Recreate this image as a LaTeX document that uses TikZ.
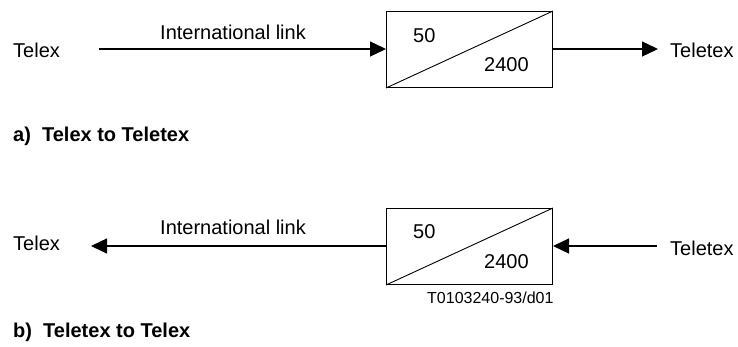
\documentclass[tikz,border=0pt]{standalone}
\usepackage{fontspec}
\setmainfont{Liberation Sans}
\usetikzlibrary{arrows.meta}
\begin{document}
\begin{tikzpicture}[x=1pt,y=-1pt,
  lbl/.style={anchor=base west,inner sep=0pt,font=\fontsize{20}{24}\selectfont},
  caption/.style={anchor=base west,inner sep=0pt,font=\fontsize{20}{24}\selectfont\bfseries},
  small/.style={anchor=base west,inner sep=0pt,font=\fontsize{16}{19}\selectfont},
  conv/.style={draw,line width=1pt,minimum width=166pt,minimum height=76pt,inner sep=0pt,anchor=north west},
  link/.style={line width=1.3pt,-{Triangle[length=16pt,width=15pt]}},
  plain/.style={line width=1.3pt}]
\useasboundingbox (0,0) rectangle (738,347);

% a) Telex to Teletex
\node[lbl] (telexA) at (13,58) {Telex};
\node[conv] (boxA) at (386,11) {};
\draw[line width=0.9pt] (boxA.south west) -- (boxA.north east);
\node[lbl] at (413,43) {50};
\node[lbl] at (484,72) {2400};
\node[lbl] (linkA) at (160,40) {International link};
\node[lbl] (teletexA) at (670,58) {Teletex};
\coordinate (startA) at (99,49);
\coordinate (endA) at (658,49);
\draw[link] (startA) -- (startA -| boxA.west);
\draw[link] (endA -| boxA.east) -- (endA);
\node[caption] (capA) at (13,142) {a)\ \ Telex to Teletex};

% b) Teletex to Telex
\node[lbl] (telexB) at (13,251) {Telex};
\node[conv] (boxB) at (386,208) {};
\draw[line width=0.9pt] (boxB.south west) -- (boxB.north east);
\node[lbl] at (413,238) {50};
\node[lbl] at (484,268) {2400};
\node[lbl] (linkB) at (160,235) {International link};
\node[lbl] (teletexB) at (670,255) {Teletex};
\coordinate (endB) at (91,246);
\coordinate (startB) at (657,246);
\draw[link] (endB -| boxB.west) -- (endB);
\draw[link] (startB) -- (startB -| boxB.east);
\node[small] (ref) at (427,303) {T0103240-93/d01};
\node[caption] (capB) at (13,337) {b)\ \ Teletex to Telex};
\end{tikzpicture}
\end{document}
